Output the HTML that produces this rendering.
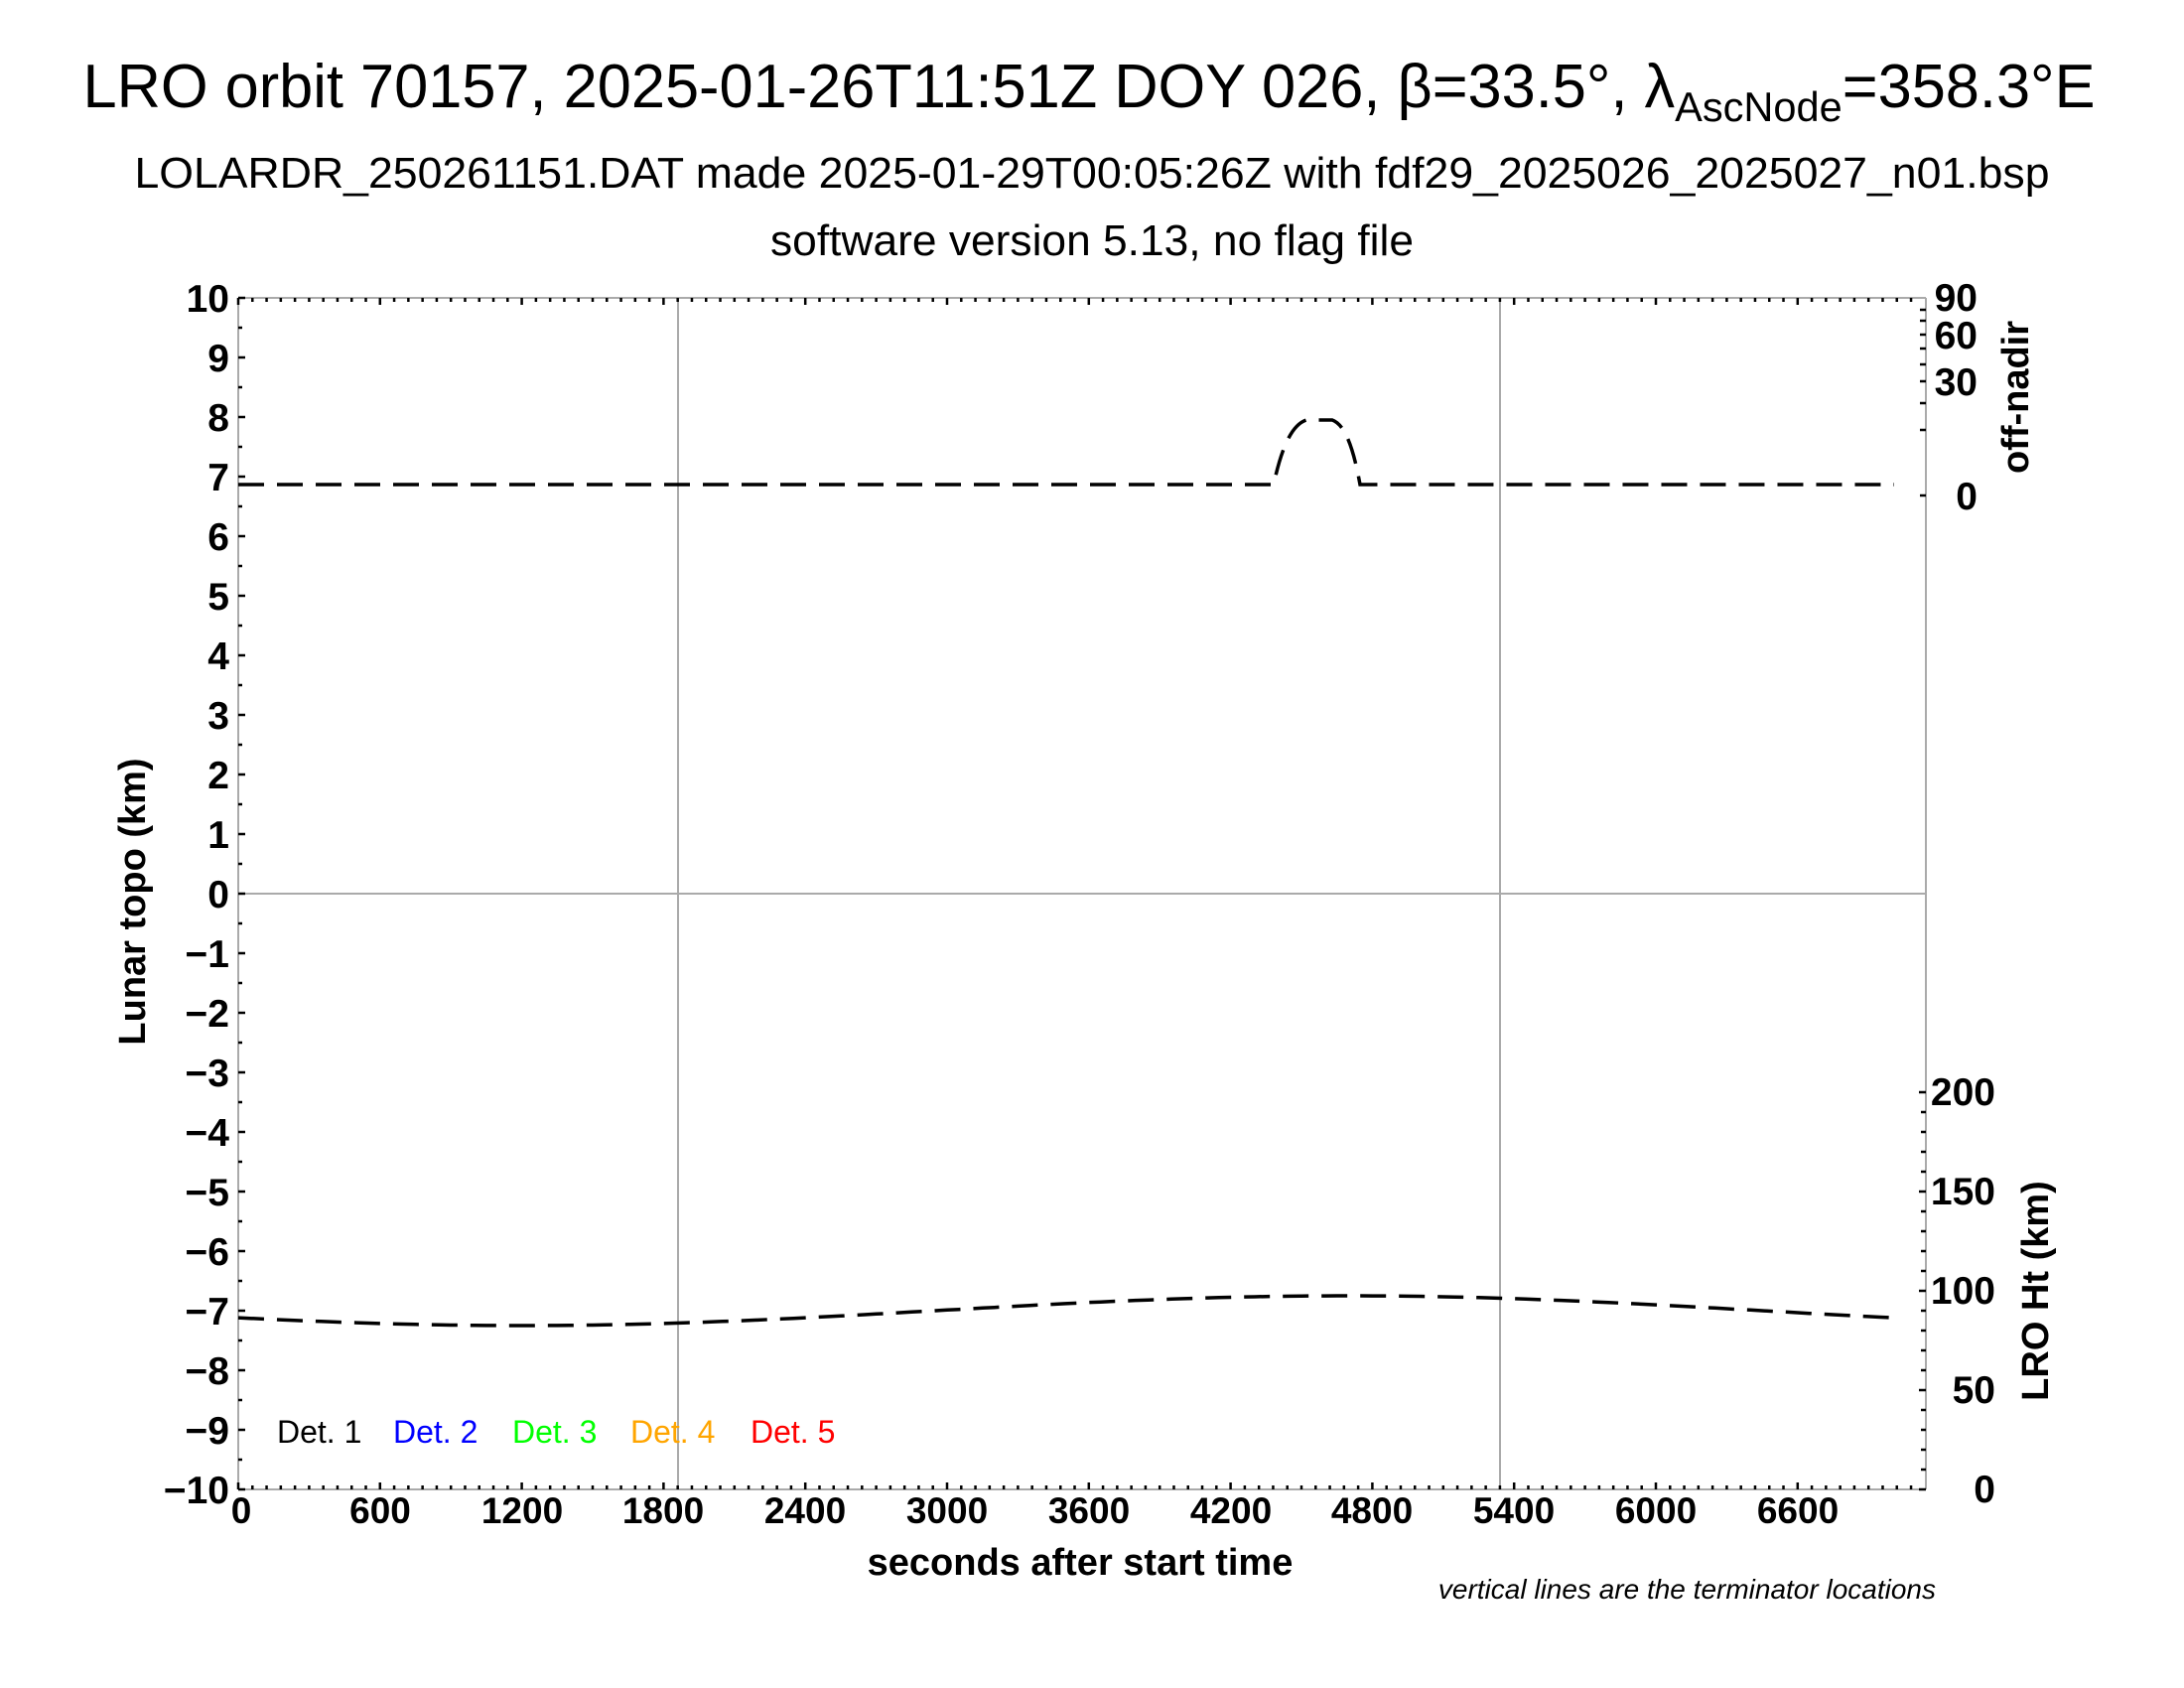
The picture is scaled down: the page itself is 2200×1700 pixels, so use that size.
<!DOCTYPE html>
<html><head><meta charset="utf-8"><style>
html,body{margin:0;padding:0;background:#fff;}
svg{display:block;}
text{font-family:"Liberation Sans",sans-serif;}
.b{font-weight:bold;}
</style></head><body>
<svg id="s" width="2200" height="1700" viewBox="0 0 2200 1700" xmlns="http://www.w3.org/2000/svg">
<rect width="2200" height="1700" fill="#fff"/>
<text x="1097" y="108" font-size="62" text-anchor="middle" textLength="2027" lengthAdjust="spacingAndGlyphs">LRO orbit 70157, 2025-01-26T11:51Z DOY 026, β=33.5°, λ<tspan font-size="42" dy="14">AscNode</tspan><tspan dy="-14">=358.3°E</tspan></text>
<text x="1100" y="189" font-size="44" text-anchor="middle" textLength="1929" lengthAdjust="spacingAndGlyphs">LOLARDR_250261151.DAT made 2025-01-29T00:05:26Z with fdf29_2025026_2025027_n01.bsp</text>
<text x="1100" y="257" font-size="44" text-anchor="middle" textLength="648" lengthAdjust="spacingAndGlyphs">software version 5.13, no flag file</text>
<g id="grid" stroke="#aaa" stroke-width="2" fill="none">
<line x1="240" y1="300" x2="1940" y2="300"/>
<line x1="240" y1="1500" x2="1940" y2="1500"/>
<line x1="240" y1="300" x2="240" y2="1500"/>
<line x1="1940" y1="300" x2="1940" y2="1500"/>
<line x1="240" y1="900" x2="1940" y2="900"/>
<line x1="683" y1="300" x2="683" y2="1500"/>
<line x1="1511" y1="300" x2="1511" y2="1500"/>
</g>
<g id="ticks" stroke="#000" stroke-width="2.5"></g>
<g class="b" font-size="39" text-anchor="end">
<text x="231" y="314">10</text><text x="231" y="374">9</text><text x="231" y="434">8</text><text x="231" y="494">7</text><text x="231" y="554">6</text><text x="231" y="614">5</text><text x="231" y="674">4</text><text x="231" y="734">3</text><text x="231" y="794">2</text><text x="231" y="854">1</text><text x="231" y="914">0</text>
<text x="231" y="974">−1</text><text x="231" y="1034">−2</text><text x="231" y="1094">−3</text><text x="231" y="1154">−4</text><text x="231" y="1214">−5</text><text x="231" y="1274">−6</text><text x="231" y="1334">−7</text><text x="231" y="1394">−8</text><text x="231" y="1454">−9</text><text x="231" y="1514">−10</text>
</g>
<g class="b" font-size="37" text-anchor="middle">
<text x="243" y="1534">0</text><text x="383" y="1534">600</text><text x="526" y="1534">1200</text><text x="668" y="1534">1800</text><text x="811" y="1534">2400</text><text x="954" y="1534">3000</text><text x="1097" y="1534">3600</text><text x="1240" y="1534">4200</text><text x="1382" y="1534">4800</text><text x="1525" y="1534">5400</text><text x="1668" y="1534">6000</text><text x="1811" y="1534">6600</text>
</g>
<text x="1088" y="1586" class="b" font-size="38" text-anchor="middle">seconds after start time</text>
<text x="146" y="908" class="b" font-size="38" text-anchor="middle" transform="rotate(-90 146 908)">Lunar topo (km)</text>
<g class="b" font-size="39" text-anchor="end">
<text x="1992" y="313">90</text><text x="1992" y="351">60</text><text x="1992" y="398">30</text><text x="1992" y="513">0</text>
<text x="2010" y="1113">200</text><text x="2010" y="1213">150</text><text x="2010" y="1313">100</text><text x="2010" y="1413">50</text><text x="2010" y="1513">0</text>
</g>
<text x="2043" y="400" class="b" font-size="38" text-anchor="middle" transform="rotate(-90 2043 400)">off-nadir</text>
<text x="2063" y="1300" class="b" font-size="38" text-anchor="middle" transform="rotate(-90 2063 1300)">LRO Ht (km)</text>
<g font-size="32">
<text x="279" y="1453" fill="#000">Det. 1</text>
<text x="396" y="1453" fill="#00f">Det. 2</text>
<text x="516" y="1453" fill="#0f0">Det. 3</text>
<text x="635" y="1453" fill="#ffa500">Det. 4</text>
<text x="756" y="1453" fill="#f00">Det. 5</text>
</g>
<text x="1950" y="1610" font-size="28" font-style="italic" text-anchor="end">vertical lines are the terminator locations</text>
<path id="nad" fill="none" stroke="#000" stroke-width="3.5" stroke-dasharray="26,13"/>
<path id="ht" fill="none" stroke="#000" stroke-width="3.5" stroke-dasharray="26,13"/>
</svg>
<script>
(function(){
var NS="http://www.w3.org/2000/svg",g=document.getElementById("ticks");
function L(x1,y1,x2,y2){var l=document.createElementNS(NS,"line");l.setAttribute("x1",x1);l.setAttribute("y1",y1);l.setAttribute("x2",x2);l.setAttribute("y2",y2);g.appendChild(l);}
var sx=0.238;
for(var t=0;t<=7100;t+=60){var x=240+t*sx;if(x>1940)break;var len=(t%600==0)?7:4;L(x,1500,x,1500-len);L(x,300,x,300+len);}
for(var k=0;k<=40;k++){var y=300+k*30,len=(k%2==0)?7:4;L(240,y,240+len,y);}
[312,323,337,351,367,384,406,433,499].forEach(function(y){L(1940,y,1934,y);});
for(var h=0;h<=200;h+=10){var y=1500-2*h;L(1940,y,h%50==0?1933:1935,y);}
var d="M240,488 L1283,488 C1290,455 1300,428 1316,423 L1342,423 C1356,428 1364,455 1370,488 L1908,488";
document.getElementById("nad").setAttribute("d",d);
var p=[];for(var t=0;t<=7010;t+=50){var x=240+t*sx,y=1320+15*Math.cos(2*Math.PI*(t-1200)/7000);p.push((p.length?"L":"M")+x.toFixed(1)+","+y.toFixed(1));}
document.getElementById("ht").setAttribute("d",p.join(" "));
})();
</script>
</body></html>
